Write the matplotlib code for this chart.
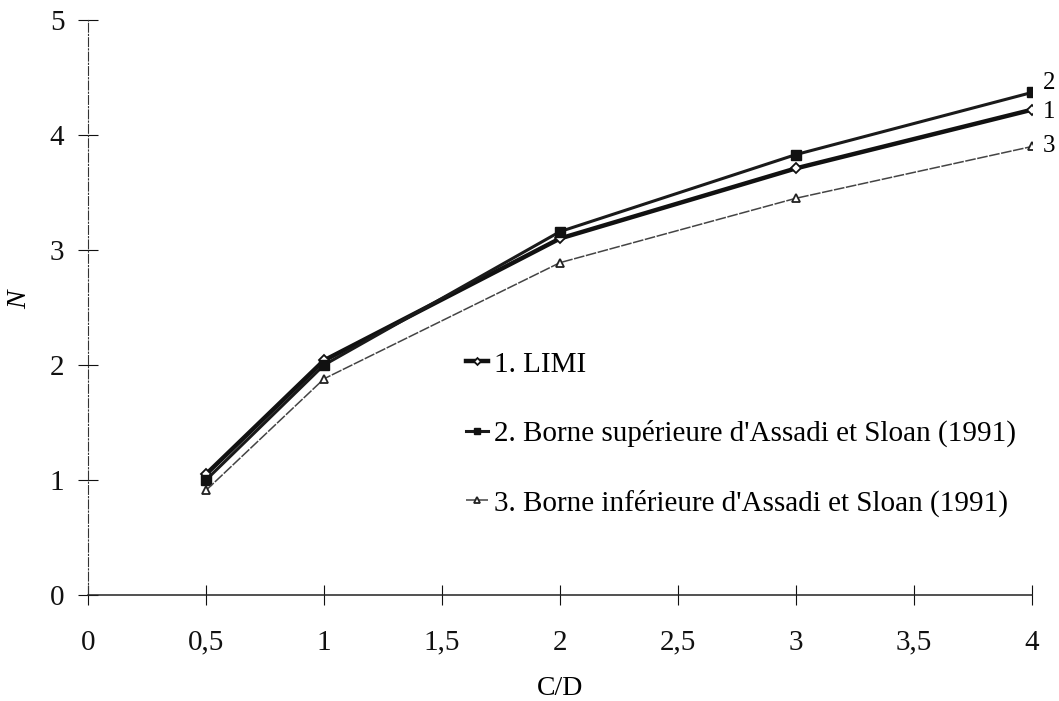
import matplotlib
matplotlib.use("Agg")
import matplotlib.pyplot as plt

# Data
cd = [0.5, 1, 2, 3, 4]
n_limi = [1.05, 2.04, 3.10, 3.71, 4.22]
n_upper = [1.00, 2.00, 3.16, 3.83, 4.37]
n_lower = [0.91, 1.88, 2.89, 3.45, 3.90]
labels = ["1. LIMI",
          "2. Borne supérieure d'Assadi et Sloan (1991)",
          "3. Borne inférieure d'Assadi et Sloan (1991)"]
end_tags = ["1", "2", "3"]
xticks = [0, 0.5, 1, 1.5, 2, 2.5, 3, 3.5, 4]
xticklabels = ["0", "0,5", "1", "1,5", "2", "2,5", "3", "3,5", "4"]
yticks = [0, 1, 2, 3, 4, 5]

plt.rcParams['font.family'] = ['Liberation Serif', 'DejaVu Serif']

fig = plt.figure(figsize=(10.59, 7.01), dpi=100)
ax = fig.add_axes([88/1059, 1 - 595/701, (1032-88)/1059, (595-20)/701])

l1, = ax.plot(cd, n_limi, color='#111111', lw=3.2, marker='D', ms=5,
              mfc='white', mec='#111111', mew=1.3)
l2, = ax.plot(cd, n_upper, color='#1a1a1a', lw=2.2, marker='s', ms=6.5,
              mfc='#111111', mec='#111111')
l3, = ax.plot(cd, n_lower, color='#444444', lw=1.1, ls=(0, (7, 1)), marker='^', ms=6,
              mfc='white', mec='#222222', mew=1.3)

# numbered tags at the right end of each curve
tag_offsets = [(8, -2), (8, 7), (8, 0)]
for ys, tag, off in zip([n_limi, n_upper, n_lower], end_tags, tag_offsets):
    ax.annotate(tag, (cd[-1], ys[-1]), xytext=off, textcoords='offset points',
                va='center', ha='left', fontsize=18, annotation_clip=False)

ax.set_xlim(0, 4)
ax.set_ylim(0, 5)
ax.set_xticks(xticks)
ax.set_xticklabels(xticklabels)
ax.set_yticks(yticks)
ax.tick_params(direction='inout', length=14, width=0.8, labelsize=21,
               colors='#111111')
ax.tick_params(axis='y', pad=10)
ax.tick_params(axis='x', pad=18)

for side in ['top', 'right']:
    ax.spines[side].set_visible(False)
ax.spines['left'].set_linewidth(0.8)
ax.spines['left'].set_linestyle((0, (8, 2, 1, 2)))
ax.spines['bottom'].set_linewidth(1.1)
ax.spines['left'].set_color('#333333')
ax.spines['bottom'].set_color('#222222')

ax.set_xlabel('C/D', fontsize=20)
ax.xaxis.set_label_coords(0.5, -(676 - 595) / 575, transform=ax.transAxes)
ax.set_ylabel('N', fontsize=20, style='italic')
ax.yaxis.set_label_coords(-(88 - 32) / 944, (595 - 300) / 575, transform=ax.transAxes)

leg = ax.legend([l1, l2, l3], labels, loc='upper left',
                bbox_to_anchor=((440-88)/944, (595-325)/575),
                frameon=False, fontsize=21, handlelength=0.75, labelspacing=1.45,
                handletextpad=0.2, markerscale=0.7)

fig.savefig('out.png', dpi=100)
